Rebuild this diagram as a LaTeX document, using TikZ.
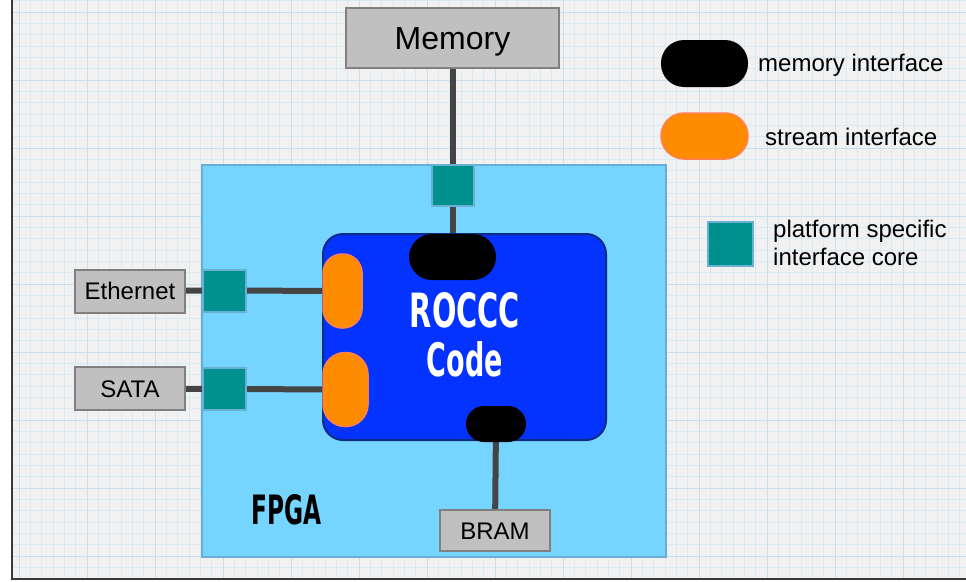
\documentclass[tikz,border=0pt]{standalone}
\usepackage{fontspec}
\setmainfont{Liberation Sans}
\newfontfamily\rocccfont{DejaVu Sans}[FakeStretch=0.8]
\usetikzlibrary{backgrounds}
\pgfdeclarelayer{gridlayer}
\pgfsetlayers{gridlayer,background,main}
\definecolor{paper}{HTML}{F1F1F1}
\definecolor{gridminor}{HTML}{DAEAF2}
\definecolor{gridmajor}{HTML}{C9E0EC}
\definecolor{fpgafill}{HTML}{76D5FE}
\definecolor{fpgaedge}{HTML}{6AAED8}
\definecolor{tealfill}{HTML}{00918F}
\definecolor{tealedge}{HTML}{6AB0D2}
\definecolor{rocccfill}{HTML}{0433FF}
\definecolor{rocccedge}{HTML}{0B2C84}
\definecolor{orangefill}{HTML}{FF8C00}
\definecolor{orangeedge}{HTML}{FF7F50}
\definecolor{boxfill}{HTML}{C0C0C0}
\definecolor{boxedge}{HTML}{808080}
\definecolor{wire}{HTML}{444444}
\definecolor{frameline}{HTML}{3A3A3A}
\tikzset{
  graybox/.style={draw=boxedge, line width=2pt, fill=boxfill, inner sep=0pt,
    font=\fontsize{24}{28}\selectfont, text height=17.4pt, text depth=0pt},
  tealbox/.style={draw=tealedge, line width=2pt, fill=tealfill, inner sep=0pt},
  mempill/.style={fill=black, inner sep=0pt},
  streampill/.style={draw=orangeedge, line width=1.5pt, fill=orangefill, inner sep=0pt},
  wireline/.style={draw=wire, line width=6pt},
  legendtext/.style={font=\fontsize{24}{28}\selectfont, anchor=base west, inner sep=0pt, align=left},
}
\begin{document}
\begin{tikzpicture}[x=1pt,y=-1pt]
\useasboundingbox (0,0) rectangle (966,581);
% paper background with grid
\begin{pgfonlayer}{gridlayer}
\fill[white] (0,0) rectangle (966,581);
\fill[paper] (12,0) rectangle (966,579);
\begin{scope}
\clip (12,0) rectangle (966,579);
\foreach \i in {0,...,85} {
  \draw[gridminor, line width=0.8pt] ({7.67+\i*11.333},0) -- ({7.67+\i*11.333},579);
}
\foreach \i in {0,...,52} {
  \draw[gridminor, line width=0.8pt] (12,{0.67+\i*11.333}) -- (966,{0.67+\i*11.333});
}
\foreach \i in {0,...,14} {
  \draw[gridmajor, line width=1pt] ({19+\i*68},0) -- ({19+\i*68},579);
}
\foreach \i in {0,...,9} {
  \draw[gridmajor, line width=1pt] (12,{12+\i*68}) -- (966,{12+\i*68});
}
\end{scope}
\draw[frameline, line width=2pt] (12,0) -- (12,579) -- (966,579);
% FPGA board
\node[draw=fpgaedge, line width=2pt, fill=fpgafill, minimum width=464pt, minimum height=392pt, inner sep=0pt] (fpga) at (434,361) {};
\end{pgfonlayer}

% external boxes
\node[graybox, minimum width=213pt, minimum height=60pt, font=\fontsize{32}{38}\selectfont, text height=23.3pt] (mem) at (452.5,38) {Memory};
\node[graybox, minimum width=110pt, minimum height=43pt] (eth) at (130,291) {Ethernet};
\node[graybox, minimum width=110pt, minimum height=43pt] (sata) at (130,388.5) {SATA};
\node[graybox, minimum width=110pt, minimum height=41pt] (bram) at (495,530.5) {BRAM};

% platform specific interface cores
\node[tealbox, minimum width=42pt, minimum height=41pt] (memT) at (453,185.5) {};
\node[tealbox, minimum width=43pt, minimum height=42pt] (ethT) at (224.5,290.5) {};
\node[tealbox, minimum width=43pt, minimum height=42pt] (sataT) at (224.5,389) {};

% ROCCC code block
\node[draw=rocccedge, line width=2pt, fill=rocccfill, rounded corners=20pt,
      minimum width=283pt, minimum height=206pt, inner sep=0pt] (roccc) at (464.5,337) {};
\node[text=white, inner sep=0pt] (rocccT) at (465,310.5) {\resizebox{110pt}{35pt}{\rocccfont\bfseries ROCCC}};
\node[text=white, inner sep=0pt] (codeT) at (465,359.5) {\resizebox{76pt}{35pt}{\rocccfont\bfseries Code}};

% interfaces on the ROCCC block
\node[mempill, rounded corners=23pt, minimum width=87pt, minimum height=46pt] (topP) at (452.5,257) {};
\node[mempill, rounded corners=18pt, minimum width=60pt, minimum height=36pt] (botP) at (496,424) {};
\node[streampill, rounded corners=19pt, minimum width=39pt, minimum height=74pt] (or1) at (342.5,291) {};
\node[streampill, rounded corners=22pt, minimum width=45pt, minimum height=74pt] (or2) at (345.5,389.5) {};

% FPGA label
\node[inner sep=0pt] (fpgaT) at (286.5,510) {\resizebox{70pt}{30pt}{\rocccfont\bfseries FPGA}};

% legend
\node[mempill, rounded corners=23pt, minimum width=87pt, minimum height=47pt] (lgMem) at (704.5,63.5) {};
\node[streampill, rounded corners=23pt, minimum width=87pt, minimum height=46pt] (lgStr) at (704.5,136) {};
\node[tealbox, minimum width=45pt, minimum height=44pt] (lgTeal) at (730.5,244) {};
\node[legendtext] (lgMemT) at (758,71.5) {memory interface};
\node[legendtext] (lgStrT) at (765,145) {stream interface};
\node[legendtext] (lgTealT) at (773,265) {platform specific\\interface core};

% connectors
\begin{pgfonlayer}{background}
\draw[wireline] (mem.south) -- (topP.center);
\draw[wireline] (eth.center) -- (ethT.center) -- (or1.center);
\draw[wireline] (sata.center) -- (sataT.center) -- (or2.center);
\draw[wireline] (botP.center) -- (bram.center);
\end{pgfonlayer}
\end{tikzpicture}
\end{document}
